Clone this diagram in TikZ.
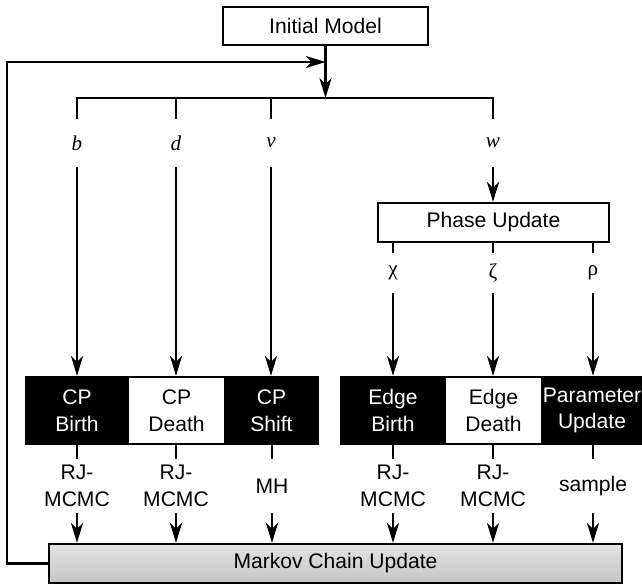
\documentclass[tikz,border=0pt]{standalone}
\usepackage{fontspec}
\setmainfont{Liberation Sans}
\newfontfamily\timesfont{Liberation Serif}
\usetikzlibrary{arrows.meta, positioning}

\tikzset{
  box/.style={
    rectangle, draw=black, fill=white, line width=1.7pt,
    font=\fontsize{15}{19}\selectfont, align=center, inner sep=0pt,
  },
  dblk/.style={
    box, fill=black, text=white,
    minimum height=1.675cm,
  },
  wblk/.style={
    box, fill=white, text=black,
    minimum height=1.675cm,
  },
  ln/.style={line width=1.6pt, black},
  arr/.style={
    -{Stealth[length=14pt,width=8.5pt,inset=4pt]},
    line width=1.6pt, black,
  },
  lbl/.style={
    inner sep=0pt, minimum height=1.2cm,
    font=\timesfont\itshape\fontsize{15}{19}\selectfont,
  },
  glbl/.style={
    inner sep=0pt, minimum height=1.0cm,
    font=\timesfont\fontsize{15}{19}\selectfont,
  },
  mlbl/.style={
    inner sep=0pt, minimum height=1.35cm, align=center,
    font=\fontsize{15}{19}\selectfont,
  },
}

\begin{document}
\begin{tikzpicture}[x=0.025cm,y=-0.025cm]
  \useasboundingbox (0,0) rectangle (642,584);

  % top of the chain
  \node[box, minimum width=5.125cm, minimum height=0.95cm]
        (init) at (325.5,26) {Initial Model};
  \coordinate (bar) at (325.5,98);
  \coordinate (corner) at (7,62);
  \coordinate (join) at (325.5,62);

  % move types
  \node[lbl] (lb) at (77,143)  {b};
  \node[lbl] (ld) at (176,143) {d};
  \node[lbl] (lv) at (271,143) {v};
  \node[lbl] (lw) at (493,143) {w};

  \node[box, minimum width=5.775cm, minimum height=0.975cm]
        (phase) at (493.5,222.5) {Phase Update};

  \node[glbl] (lchi)  at (393,273) {χ};
  \node[glbl] (lzeta) at (493,273) {ζ};
  \node[glbl] (lrho)  at (593,273) {ρ};

  % update blocks
  \node[dblk, minimum width=2.55cm]  (cpb) at (77,410.5)    {CP\\Birth};
  \node[wblk, minimum width=2.425cm] (cpd) at (176.5,410.5) {CP\\Death};
  \node[dblk, minimum width=2.325cm] (cps) at (271.5,410.5) {CP\\Shift};

  \node[dblk, minimum width=2.6cm]   (eb) at (393,410.5)   {Edge\\Birth};
  \node[wblk, minimum width=2.425cm] (ed) at (493.5,410.5) {Edge\\Death};
  \node[dblk, minimum width=2.5cm]   (pu) at (592,410.5)   {Parameter\\Update};

  % samplers
  \node[mlbl] (mcpb) at (77,486)  {RJ-\\MCMC};
  \node[mlbl] (mcpd) at (176,486) {RJ-\\MCMC};
  \node[mlbl] (mcps) at (272,486) {MH};
  \node[mlbl] (meb)  at (393,486) {RJ-\\MCMC};
  \node[mlbl] (med)  at (493,486) {RJ-\\MCMC};
  \node[mlbl] (mpu)  at (593,486) {sample};

  \node[box, minimum width=14.325cm, minimum height=0.975cm,
        top color=gray!22, bottom color=gray!45]
        (markov) at (335.5,563.5) {Markov Chain Update};

  % connectors
  \draw[arr] (init.south) -- (bar);
  \draw[arr] (markov.west) -| (corner) -- (join);
  \draw[ln] (lb.north) |- (bar) -| (lw.north);
  \draw[ln] (ld.north) -- (ld.north |- bar);
  \draw[ln] (lv.north) -- (lv.north |- bar);

  \draw[arr] (lb.south) -- (lb.south |- cpb.north);
  \draw[arr] (ld.south) -- (ld.south |- cpd.north);
  \draw[arr] (lv.south) -- (lv.south |- cps.north);
  \draw[arr] (lw.south) -- (lw.south |- phase.north);

  \draw[ln] (lchi.north)  -- (lchi.north |- phase.south);
  \draw[ln] (lzeta.north) -- (lzeta.north |- phase.south);
  \draw[ln] (lrho.north)  -- (lrho.north |- phase.south);
  \draw[arr] (lchi.south)  -- (lchi.south |- eb.north);
  \draw[arr] (lzeta.south) -- (lzeta.south |- ed.north);
  \draw[arr] (lrho.south)  -- (lrho.south |- pu.north);

  \foreach \m/\b in {mcpb/cpb, mcpd/cpd, mcps/cps, meb/eb, med/ed, mpu/pu}{
    \draw[ln] (\m.north) -- (\m.north |- \b.south);
    \draw[arr] (\m.south) -- (\m.south |- markov.north);
  }

\end{tikzpicture}
\end{document}
